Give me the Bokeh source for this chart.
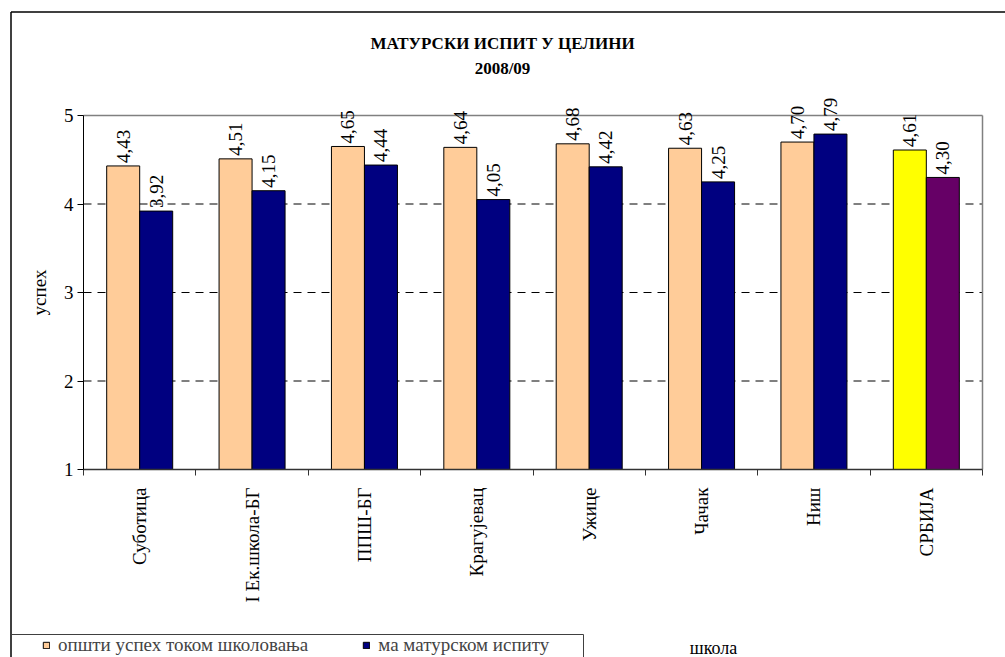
from math import pi
from bokeh.plotting import figure
from bokeh.models import (Range1d, FixedTicker, Legend, LegendItem, Label)
from bokeh.core.properties import value
from bokeh.embed import file_html
from bokeh.resources import INLINE

# ---------------- data ----------------
title_line1 = "МАТУРСКИ ИСПИТ У ЦЕЛИНИ"
title_line2 = "2008/09"
categories = ["Суботица", "I Ек.школа-БГ", "ППШ-БГ", "Крагујевац", "Ужице", "Чачак", "Ниш", "СРБИЈА"]
overall = [4.43, 4.51, 4.65, 4.64, 4.68, 4.63, 4.70, 4.61]
exam = [3.92, 4.15, 4.44, 4.05, 4.42, 4.25, 4.79, 4.30]
series_names = ["општи успех током школовања", "ма матурском испиту"]
y_ticks = [1, 2, 3, 4, 5]
grid_ticks = [2, 3, 4]
y_label = "успех"
x_label = "школа"

# ---------------- layout (pixels) ----------------
W, H = 1005, 657
PX_L, PX_R = 83, 982      # x = 0 and x = n
PY_T, PY_B = 115, 469     # y = top tick and y = bottom tick
FONT = "Liberation Serif"

n = len(categories)
ymin, ymax = y_ticks[0], y_ticks[-1]
sx = (PX_R - PX_L) / n
sy = (PY_B - PY_T) / (ymax - ymin)


def dx(px):
    return (px - PX_L) / sx


def dy(py):
    return ymin + (PY_B - py) / sy


centers = [i + 0.5 for i in range(n)]
bw = 33 / sx
x1 = [c - bw / 2 for c in centers]
x2 = [c + bw / 2 for c in centers]
col1 = ["#FFCC99"] * (n - 1) + ["#FFFF00"]
col2 = ["#000080"] * (n - 1) + ["#660066"]
lab1 = [f"{v:.2f}".replace(".", ",") for v in overall]
lab2 = [f"{v:.2f}".replace(".", ",") for v in exam]

p = figure(width=W, height=H, x_range=Range1d(dx(0), dx(W)), y_range=Range1d(dy(H), dy(0)),
           output_backend="svg", toolbar_location=None, min_border=0)
p.title.visible = False
p.outline_line_color = None
p.background_fill_color = "white"
p.border_fill_color = "white"
p.xgrid.visible = False
p.ygrid.visible = False

# x axis (fixed at the bottom of the plot area)
xa = p.xaxis[0]
xa.fixed_location = ymin
xa.bounds = (0, n)
xa.ticker = FixedTicker(ticks=centers, minor_ticks=list(range(n + 1)))
xa.major_label_overrides = {c: name for c, name in zip(centers, categories)}
xa.major_label_orientation = pi / 2
xa.major_tick_out = 0
xa.major_tick_in = 0
xa.major_tick_line_color = None
xa.minor_tick_out = 6
xa.minor_tick_in = 0
xa.minor_tick_line_color = "#333333"
xa.axis_line_color = "#333333"
xa.axis_line_width = 1.5
xa.major_label_standoff = 12
xa.major_label_text_font = FONT
xa.major_label_text_font_size = "19px"
xa.major_label_text_color = "black"

# y axis
ya = p.yaxis[0]
ya.fixed_location = 0
ya.bounds = (ymin, ymax)
ya.ticker = FixedTicker(ticks=y_ticks)
ya.major_tick_out = 6
ya.major_tick_in = 0
ya.minor_tick_line_color = None
ya.axis_line_color = "black"
ya.major_tick_line_color = "black"
ya.major_label_text_font = FONT
ya.major_label_text_font_size = "19px"
ya.major_label_text_color = "black"
ya.major_label_standoff = 4
ya.axis_label = y_label
ya.axis_label_text_font = FONT
ya.axis_label_text_font_size = "19px"
ya.axis_label_text_font_style = "normal"
ya.axis_label_text_color = "black"
ya.axis_label_standoff = 11

# outer chart frame (left and top edges; the rest lies outside the picture)
p.segment(x0=[dx(10.5), dx(10.5)], y0=[dy(11.5), dy(11.5)],
          x1=[dx(10.5), dx(W + 20)], y1=[dy(H + 20), dy(11.5)],
          line_color="black", line_width=1.5)
# legend box (top and right edges)
p.segment(x0=[dx(10.5), dx(583)], y0=[dy(634), dy(634)],
          x1=[dx(583), dx(583)], y1=[dy(634), dy(H + 20)],
          line_color="#404040", line_width=1)

# gridlines and plot-area border
p.segment(x0=0, x1=n, y0=grid_ticks, y1=grid_ticks, line_color="black", line_width=1,
          line_dash="8 6")
p.segment(x0=[0], x1=[n], y0=[ymax], y1=[ymax], line_color="#808080", line_width=1.5)
p.segment(x0=[n], x1=[n], y0=[ymin], y1=[ymax], line_color="#808080", line_width=1.5)

# bars
r1 = p.vbar(x=x1, top=overall, bottom=ymin, width=bw, fill_color=col1, line_color="black",
            line_width=1)
r2 = p.vbar(x=x2, top=exam, bottom=ymin, width=bw, fill_color=col2, line_color="black",
            line_width=1)

# value labels
p.text(x=x1, y=overall, text=lab1, angle=pi / 2, text_align="left", text_baseline="middle",
       y_offset=-3, text_font=value(FONT), text_font_size="19px", text_color="black")
p.text(x=x2, y=exam, text=lab2, angle=pi / 2, text_align="left", text_baseline="middle",
       y_offset=-3, text_font=value(FONT), text_font_size="19px", text_color="black")

# titles
p.add_layout(Label(x=dx(502), y=dy(43), text=title_line1, text_align="center",
                   text_baseline="middle", text_font=FONT, text_font_size="17px",
                   text_font_style="bold", text_color="black"))
p.add_layout(Label(x=dx(502), y=dy(68), text=title_line2, text_align="center",
                   text_baseline="middle", text_font=FONT, text_font_size="17px",
                   text_font_style="bold", text_color="black"))
p.add_layout(Label(x=dx(713), y=dy(647), text=x_label, text_align="center",
                   text_baseline="middle", text_font=FONT, text_font_size="18px",
                   text_color="black"))

# legend
legend = Legend(items=[LegendItem(label=series_names[0], renderers=[r1]),
                       LegendItem(label=series_names[1], renderers=[r2])],
                orientation="horizontal", location=(42, 1),
                border_line_color=None, background_fill_alpha=0,
                label_text_font=FONT, label_text_font_size="19px", label_height=18,
                glyph_width=8, glyph_height=8, label_standoff=8, spacing=54,
                padding=0, margin=0)
p.add_layout(legend, "center")

open("out.html", "w").write(file_html(p, INLINE))
